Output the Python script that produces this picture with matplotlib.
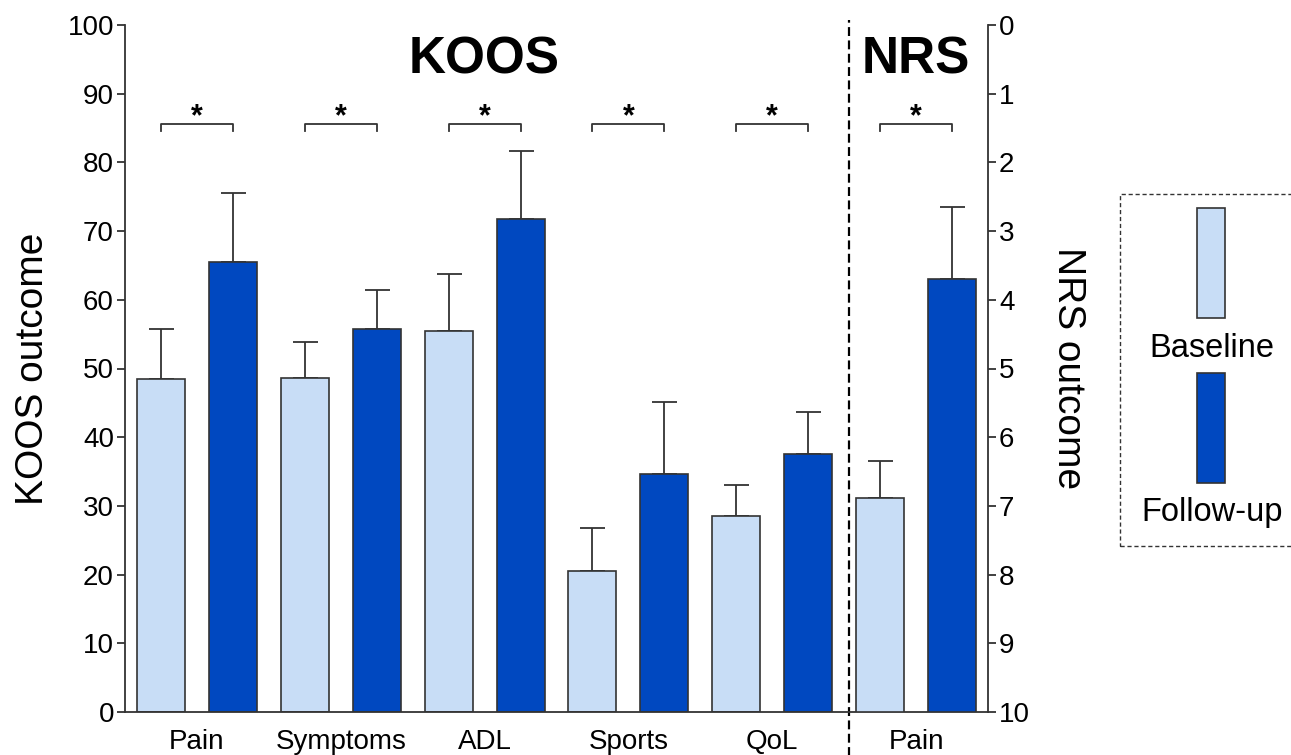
import matplotlib
matplotlib.use("Agg")
import matplotlib.pyplot as plt
from matplotlib.patches import Rectangle
import numpy as np

plt.rcParams['font.family'] = ['Liberation Sans', 'DejaVu Sans']

# ---- data ----
koos_categories = ["Pain", "Symptoms", "ADL", "Sports", "QoL"]
nrs_categories = ["Pain"]
koos_baseline = [48.5, 48.6, 55.4, 20.5, 28.5]
koos_baseline_sd = [7.2, 5.3, 8.4, 6.3, 4.5]
koos_followup = [65.5, 55.7, 71.7, 34.7, 37.5]
koos_followup_sd = [10.1, 5.7, 9.9, 10.4, 6.1]
nrs_baseline = [6.89]
nrs_baseline_sd = [0.54]
nrs_followup = [3.69]
nrs_followup_sd = [1.04]
significance = ["*", "*", "*", "*", "*", "*"]
series_labels = ["Baseline", "Follow-up"]

light = "#c8ddf6"
dark = "#0048c0"
edge = "#333333"

W, H = 1291, 755
fig = plt.figure(figsize=(W / 100, H / 100), dpi=100)
ax = fig.add_axes([125 / W, 1 - 712 / H, (988 - 125) / W, (712 - 25) / H])
ax2 = ax.twinx()

bw = 1 / 3
off = 0.25
xk = np.arange(len(koos_categories))
xn = np.arange(len(nrs_categories)) + len(koos_categories)

err_kw = dict(fmt="none", ecolor=edge, elinewidth=1.3, capsize=9, capthick=1.3)

ax.bar(xk - off, koos_baseline, bw, color=light, edgecolor=edge, linewidth=1.2, zorder=2)
ax.bar(xk + off, koos_followup, bw, color=dark, edgecolor=edge, linewidth=1.2, zorder=2)
ax.errorbar(xk - off, koos_baseline, yerr=[np.zeros(len(xk)), koos_baseline_sd], zorder=1, **err_kw)
ax.errorbar(xk + off, koos_followup, yerr=[np.zeros(len(xk)), koos_followup_sd], zorder=1, **err_kw)

# NRS on inverted right axis
ax2.set_ylim(10, 0)
ax2.bar(xn - off, np.array(nrs_baseline) - 10, bw, bottom=10, color=light, edgecolor=edge, linewidth=1.2, zorder=2)
ax2.bar(xn + off, np.array(nrs_followup) - 10, bw, bottom=10, color=dark, edgecolor=edge, linewidth=1.2, zorder=2)
ax2.errorbar(xn - off, nrs_baseline, yerr=[nrs_baseline_sd, np.zeros(len(xn))], zorder=1, **err_kw)
ax2.errorbar(xn + off, nrs_followup, yerr=[nrs_followup_sd, np.zeros(len(xn))], zorder=1, **err_kw)

ax.set_xlim(-0.5, 5.5)
ax.set_ylim(0, 100)
ax.set_yticks(np.arange(0, 101, 10))
ax2.set_yticks(np.arange(0, 11, 1))
ax.set_xticks(np.concatenate([xk, xn]))
ax.set_xticklabels(koos_categories + nrs_categories)

for a in (ax, ax2):
    a.spines['top'].set_visible(False)
    for s in a.spines.values():
        s.set_color(edge)
        s.set_linewidth(1.3)
ax.spines['right'].set_visible(False)
ax2.spines['left'].set_visible(False)
ax2.spines['bottom'].set_visible(False)

ax.tick_params(axis='y', direction='out', length=6, width=1.3, color=edge, labelsize=20, pad=2)
ax.tick_params(axis='x', length=0, labelsize=20, pad=12)
ax2.tick_params(axis='y', direction='out', length=6, width=1.3, color=edge, labelsize=20, pad=2)

ax.set_ylabel("KOOS outcome", fontsize=28, labelpad=12)
ax2.set_ylabel("NRS outcome", fontsize=28, rotation=-90, labelpad=40)

# section divider
ax.axvline(4.535, ymin=-0.065, ymax=1.008, color="black", linestyle=(0, (4, 2)), linewidth=1.6, clip_on=False)

# section titles
ax.text(2, 94.9, "KOOS", fontsize=37, fontweight="bold", ha="center", va="center")
ax.text(5, 94.9, "NRS", fontsize=37, fontweight="bold", ha="center", va="center")

# significance brackets
for i, s in enumerate(significance):
    x0, x1 = i - off, i + off
    ax.plot([x0, x0, x1, x1], [84.6, 85.6, 85.6, 84.6], color=edge, linewidth=1.3, clip_on=False)
    ax.text(i, 84.4, s, fontsize=22, fontweight="bold", ha="center", va="bottom")

# legend (custom, in figure pixels)
def fx(px):
    return px / W
def fy(py):
    return 1 - py / H

box = Rectangle((fx(1120), fy(546)), fx(1290) - fx(1120) + 0.02, fy(194) - fy(546),
                transform=fig.transFigure, fill=False, edgecolor=edge,
                linestyle=(0, (3, 2)), linewidth=1.0)
fig.add_artist(box)
for (py0, py1, col, lab, ty) in [(208, 318, light, series_labels[0], 348),
                                 (373, 483, dark, series_labels[1], 513)]:
    fig.add_artist(Rectangle((fx(1197), fy(py1)), fx(1225) - fx(1197), fy(py0) - fy(py1),
                             transform=fig.transFigure, facecolor=col, edgecolor=edge, linewidth=1.2))
    fig.text(fx(1212), fy(ty), lab, fontsize=23.5, ha="center", va="center")

fig.savefig("out.png", dpi=100)
